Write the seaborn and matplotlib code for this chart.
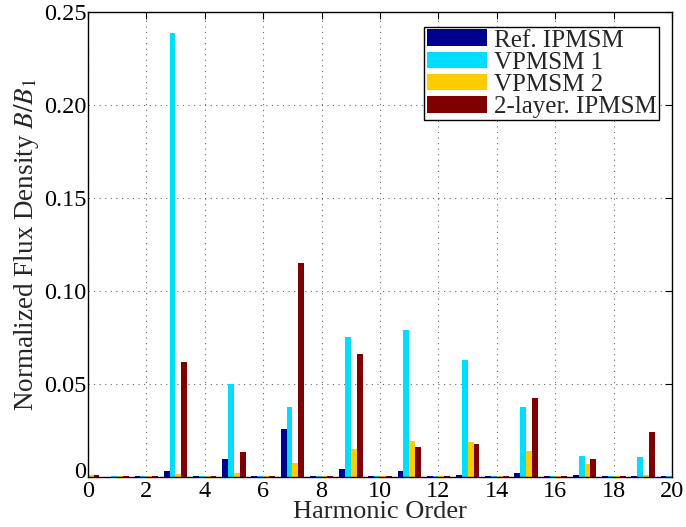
import numpy as np
import pandas as pd
import matplotlib
matplotlib.use("Agg")
import matplotlib.pyplot as plt
import matplotlib.transforms as mtransforms
import seaborn as sns

harmonics = list(range(0, 21))
series_names = ["Ref. IPMSM", "VPMSM 1", "VPMSM 2", "2-layer. IPMSM"]
ref_ipmsm = [0.0008, 0.0002, 0.0007, 0.0034, 0.0007, 0.0095, 0.0007, 0.026, 0.0007, 0.0045,
             0.0007, 0.003, 0.0007, 0.0013, 0.0007, 0.0022, 0.0007, 0.0013, 0.0007, 0.0007, 0.0007]
vpmsm1 = [0.0008, 0.0005, 0.0007, 0.239, 0.0007, 0.050, 0.0007, 0.0375, 0.0007, 0.075,
          0.0007, 0.079, 0.0007, 0.063, 0.0007, 0.0376, 0.0007, 0.0113, 0.0007, 0.0106, 0.0007]
vpmsm2 = [0.0009, 0.0005, 0.0007, 0.0016, 0.0007, 0.002, 0.0007, 0.0077, 0.0007, 0.015,
          0.0007, 0.0195, 0.0007, 0.0186, 0.0007, 0.0142, 0.0007, 0.0072, 0.0007, 0.0013, 0.0007]
ipmsm2 = [0.0009, 0.0003, 0.0007, 0.062, 0.0007, 0.0133, 0.0007, 0.115, 0.0007, 0.066,
          0.0007, 0.0163, 0.0007, 0.0177, 0.0007, 0.0425, 0.0007, 0.0095, 0.0007, 0.0242, 0.0007]
colors = ["#00008F", "#00DDFF", "#FFCC00", "#800000"]
x_ticks = list(range(0, 21, 2))
y_ticks = [0, 0.05, 0.10, 0.15, 0.20, 0.25]
y_tick_labels = ["0", "0.05", "0.10", "0.15", "0.20", "0.25"]

df = pd.DataFrame({
    "Harmonic": harmonics * 4,
    "Value": ref_ipmsm + vpmsm1 + vpmsm2 + ipmsm2,
    "Series": sum([[n] * len(harmonics) for n in series_names], []),
})

sns.set_style("white")
plt.rcParams["font.family"] = ["Liberation Serif", "DejaVu Serif"]
plt.rcParams["mathtext.fontset"] = "stix"

fig = plt.figure(figsize=(6.86, 5.27), dpi=100)
ax = fig.add_axes([0.128, 0.095, 0.852, 0.882])

sns.barplot(data=df, x="Harmonic", y="Value", hue="Series", order=harmonics,
            hue_order=series_names, palette=colors, width=0.8, saturation=1,
            edgecolor="none", linewidth=0, ax=ax, legend=True)

ax.set_xlim(0, 20)
ax.set_ylim(0, 0.25)
ax.set_xticks(x_ticks)
ax.set_xticklabels([str(t) for t in x_ticks])
ax.set_yticks(y_ticks)
ax.set_yticklabels(y_tick_labels)
ax.tick_params(axis="both", direction="in", length=5, width=0.8, labelsize=17.5,
               top=True, right=True, colors="black")
ax.tick_params(axis="y", pad=1)
ax.tick_params(axis="x", pad=3)
# lift the y "0" label slightly so it does not collide with the x "0"
zero_lbl = ax.get_yticklabels()[0]
zero_lbl.set_transform(zero_lbl.get_transform() +
                       mtransforms.ScaledTranslation(0, 5 / 72, fig.dpi_scale_trans))
ax.grid(True, linestyle=(0, (1, 4)), color="black", linewidth=0.8, alpha=0.6)
ax.set_axisbelow(True)
for s in ax.spines.values():
    s.set_color("black")
    s.set_linewidth(1.0)
    s.set_visible(True)

ax.set_xlabel("Harmonic Order", fontsize=19, labelpad=-1)
ax.set_ylabel(r"Normalized Flux Density $B/B_1$", fontsize=19.5, labelpad=2)

leg = ax.legend(loc="upper right", bbox_to_anchor=(0.978, 0.968), fontsize=18,
                frameon=True, fancybox=False, edgecolor="black", framealpha=1,
                handlelength=2.4, handleheight=0.65, handletextpad=0.3,
                labelspacing=0.0, borderpad=0.1, borderaxespad=0.0)
leg.get_frame().set_linewidth(1.0)

fig.savefig("out.png", dpi=100)
